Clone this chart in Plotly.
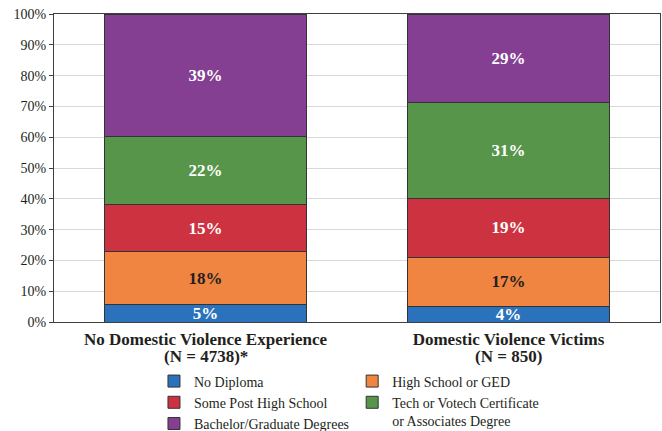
import plotly.graph_objects as go

categories_line1 = ["No Domestic Violence Experience", "Domestic Violence Victims"]
categories_line2 = ["(N = 4738)*", "(N = 850)"]
series_names = ["No Diploma", "High School or GED", "Some Post High School",
                "Tech or Votech Certificate<br>or Associates Degree",
                "Bachelor/Graduate Degrees"]
no_diploma = [5.6, 5.0]
high_school = [17.2, 16.1]
some_post = [15.2, 19.0]
tech_votech = [22.2, 31.2]
bachelor = [39.8, 28.7]
label_no_diploma = ["5%", "4%"]
label_high_school = ["18%", "17%"]
label_some_post = ["15%", "19%"]
label_tech_votech = ["22%", "31%"]
label_bachelor = ["39%", "29%"]
y_ticks = [0, 10, 20, 30, 40, 50, 60, 70, 80, 90, 100]
y_tick_labels = [f"{v}%" for v in y_ticks]

values = [no_diploma, high_school, some_post, tech_votech, bachelor]
labels = [label_no_diploma, label_high_school, label_some_post, label_tech_votech, label_bachelor]
colors = ["#2a72bb", "#f08441", "#cd3240", "#57964a", "#843f93"]
text_colors = ["white", "#231f20", "white", "white", "white"]
legend_ids = ["legend", "legend2", "legend", "legend2", "legend"]

SERIF = "Liberation Serif"

fig = go.Figure()
for name, vals, labs, col, tcol, lg in zip(series_names, values, labels, colors, text_colors, legend_ids):
    fig.add_trace(go.Bar(
        x=[0, 1], y=vals, name=name, text=labs,
        textposition="inside", insidetextanchor="middle",
        textfont=dict(family=SERIF, size=17, color=tcol, weight="bold"),
        marker=dict(color=col, line=dict(color="#333333", width=1)),
        legend=lg, constraintext="none",
    ))

for i, line2 in enumerate(categories_line2):
    fig.add_annotation(
        x=i, xref="x", y=-0.1104, yref="paper", yanchor="middle",
        text=line2, showarrow=False,
        font=dict(family=SERIF, size=17, color="#231f20", weight="bold"),
    )

legend_common = dict(
    xref="container", yref="container", xanchor="left", yanchor="top",
    orientation="v", font=dict(family=SERIF, size=14, color="#231f20"),
    itemwidth=30, valign="top", bgcolor="rgba(0,0,0,0)",
    tracegroupgap=0, traceorder="normal",
)

fig.update_layout(
    barmode="stack",
    bargap=0.333,
    width=662, height=431,
    margin=dict(l=54, r=2, t=14, b=109, autoexpand=False),
    paper_bgcolor="white", plot_bgcolor="white",
    font=dict(family=SERIF, color="#231f20", size=13),
    legend=dict(x=0.2326, y=0.1520, **legend_common),
    legend2=dict(x=0.532, y=0.1520, **legend_common),
)
fig.update_xaxes(
    range=[-0.5, 1.5], tickvals=[0, 1], ticktext=categories_line1,
    tickfont=dict(family=SERIF, size=17, color="#231f20", weight="bold"),
    showline=True, linecolor="#404040", linewidth=1, mirror=True,
    showgrid=False, ticks="", fixedrange=True, automargin=False,
    ticklabelstandoff=2,
)
fig.update_yaxes(
    range=[0, 100], tickvals=y_ticks, ticktext=y_tick_labels,
    tickfont=dict(family=SERIF, size=14, color="#231f20"),
    showline=True, linecolor="#404040", linewidth=1, mirror=True,
    showgrid=True, gridcolor="#d9d9d9", gridwidth=1,
    ticks="outside", ticklen=4, tickcolor="#404040", zeroline=False,
    automargin=False, fixedrange=True,
)

fig.write_html("out.html", config={"displayModeBar": False},
               post_script="document.body.style.margin='0';document.body.style.overflow='hidden';")
